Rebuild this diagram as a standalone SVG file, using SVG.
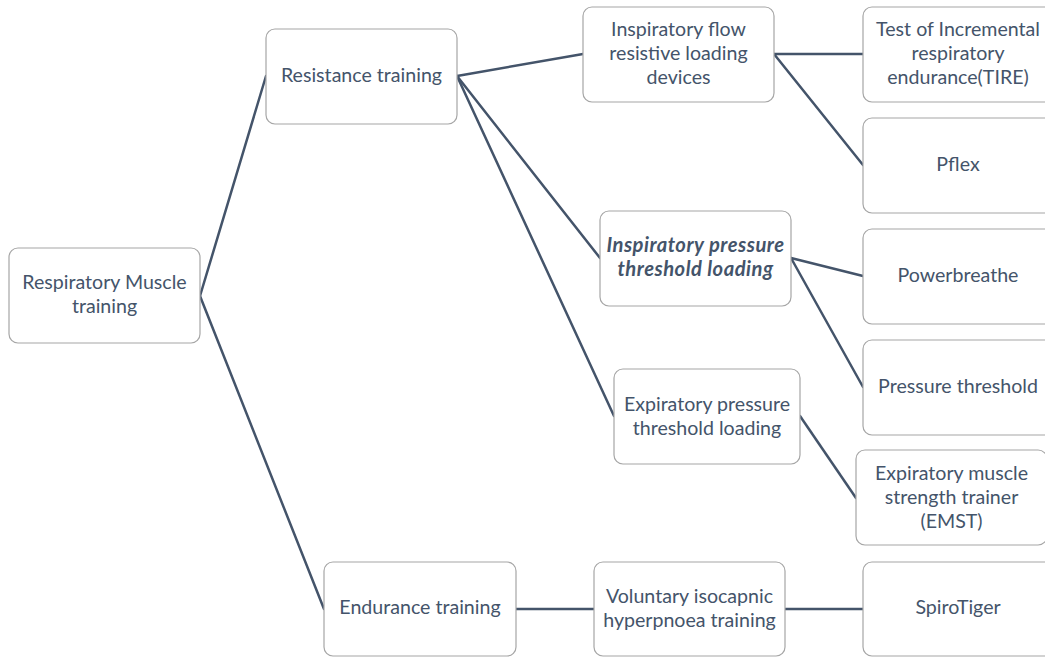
<svg xmlns="http://www.w3.org/2000/svg" width="1045" height="657" viewBox="0 0 1045 657">
  <style>
    .box { fill: #ffffff; stroke: #a6a6a6; stroke-width: 1.2; }
    .lbl { font-family: Lato, "Open Sans", "Liberation Sans", sans-serif; font-size: 19.6px; fill: #44546a; text-anchor: middle; }
    .em { font-weight: bold; font-style: italic; font-size: 20.2px; letter-spacing: 0.5px; }
    .link { stroke: #44546a; stroke-width: 2.5; fill: none; stroke-linecap: round; }
  </style>
  <rect width="1045" height="657" fill="#ffffff"/>

  <!-- connectors -->
  <g id="connectors">
    <line class="link" x1="200" y1="296" x2="266" y2="76"/>
    <line class="link" x1="200" y1="296" x2="324" y2="609"/>
    <line class="link" x1="457" y1="76" x2="583" y2="54"/>
    <line class="link" x1="457" y1="76" x2="600" y2="258"/>
    <line class="link" x1="457" y1="76" x2="614" y2="416"/>
    <line class="link" x1="774" y1="54" x2="863" y2="54"/>
    <line class="link" x1="774" y1="54" x2="863" y2="165"/>
    <line class="link" x1="791" y1="258" x2="863" y2="276"/>
    <line class="link" x1="791" y1="258" x2="863" y2="387"/>
    <line class="link" x1="800" y1="416" x2="856" y2="498"/>
    <line class="link" x1="516" y1="609" x2="594" y2="609"/>
    <line class="link" x1="785" y1="609" x2="863" y2="609"/>
  </g>

  <!-- level 0 -->
  <g id="n-rmt">
    <rect class="box" x="9" y="248" width="191" height="95" rx="9"/>
    <text class="lbl" x="104.5" y="289">Respiratory Muscle</text>
    <text class="lbl" x="104.5" y="313">training</text>
  </g>

  <!-- level 1 -->
  <g id="n-resistance">
    <rect class="box" x="266" y="29" width="191" height="95" rx="9"/>
    <text class="lbl" x="361.5" y="82">Resistance training</text>
  </g>
  <g id="n-endurance">
    <rect class="box" x="324" y="562" width="192" height="94" rx="9"/>
    <text class="lbl" x="420" y="614">Endurance training</text>
  </g>

  <!-- level 2 -->
  <g id="n-ifrl">
    <rect class="box" x="583" y="7" width="191" height="95" rx="9"/>
    <text class="lbl" x="678.5" y="36">Inspiratory flow</text>
    <text class="lbl" x="678.5" y="60">resistive loading</text>
    <text class="lbl" x="678.5" y="84">devices</text>
  </g>
  <g id="n-iptl">
    <rect class="box" x="600" y="211" width="191" height="95" rx="9"/>
    <text class="lbl em" x="695.5" y="252">Inspiratory pressure</text>
    <text class="lbl em" x="695.5" y="276">threshold loading</text>
  </g>
  <g id="n-eptl">
    <rect class="box" x="614" y="369" width="186" height="95" rx="9"/>
    <text class="lbl" x="707" y="411">Expiratory pressure</text>
    <text class="lbl" x="707" y="435">threshold loading</text>
  </g>
  <g id="n-vih">
    <rect class="box" x="594" y="562" width="191" height="94" rx="9"/>
    <text class="lbl" x="689.5" y="603">Voluntary isocapnic</text>
    <text class="lbl" x="689.5" y="627">hyperpnoea training</text>
  </g>

  <!-- level 3 -->
  <g id="n-tire">
    <rect class="box" x="863" y="7" width="191" height="95" rx="9"/>
    <text class="lbl" x="958" y="36">Test of Incremental</text>
    <text class="lbl" x="958" y="60">respiratory</text>
    <text class="lbl" x="958" y="84">endurance(TIRE)</text>
  </g>
  <g id="n-pflex">
    <rect class="box" x="863" y="118" width="191" height="95" rx="9"/>
    <text class="lbl" x="958" y="171">Pflex</text>
  </g>
  <g id="n-powerbreathe">
    <rect class="box" x="863" y="229" width="191" height="95" rx="9"/>
    <text class="lbl" x="958" y="282">Powerbreathe</text>
  </g>
  <g id="n-pthreshold">
    <rect class="box" x="863" y="340" width="191" height="95" rx="9"/>
    <text class="lbl" x="958" y="393">Pressure threshold</text>
  </g>
  <g id="n-emst">
    <rect class="box" x="856" y="450" width="191" height="95" rx="9"/>
    <text class="lbl" x="951.5" y="480">Expiratory muscle</text>
    <text class="lbl" x="951.5" y="504">strength trainer</text>
    <text class="lbl" x="951.5" y="528">(EMST)</text>
  </g>
  <g id="n-spirotiger">
    <rect class="box" x="863" y="562" width="191" height="94" rx="9"/>
    <text class="lbl" x="958" y="614">SpiroTiger</text>
  </g>
</svg>
